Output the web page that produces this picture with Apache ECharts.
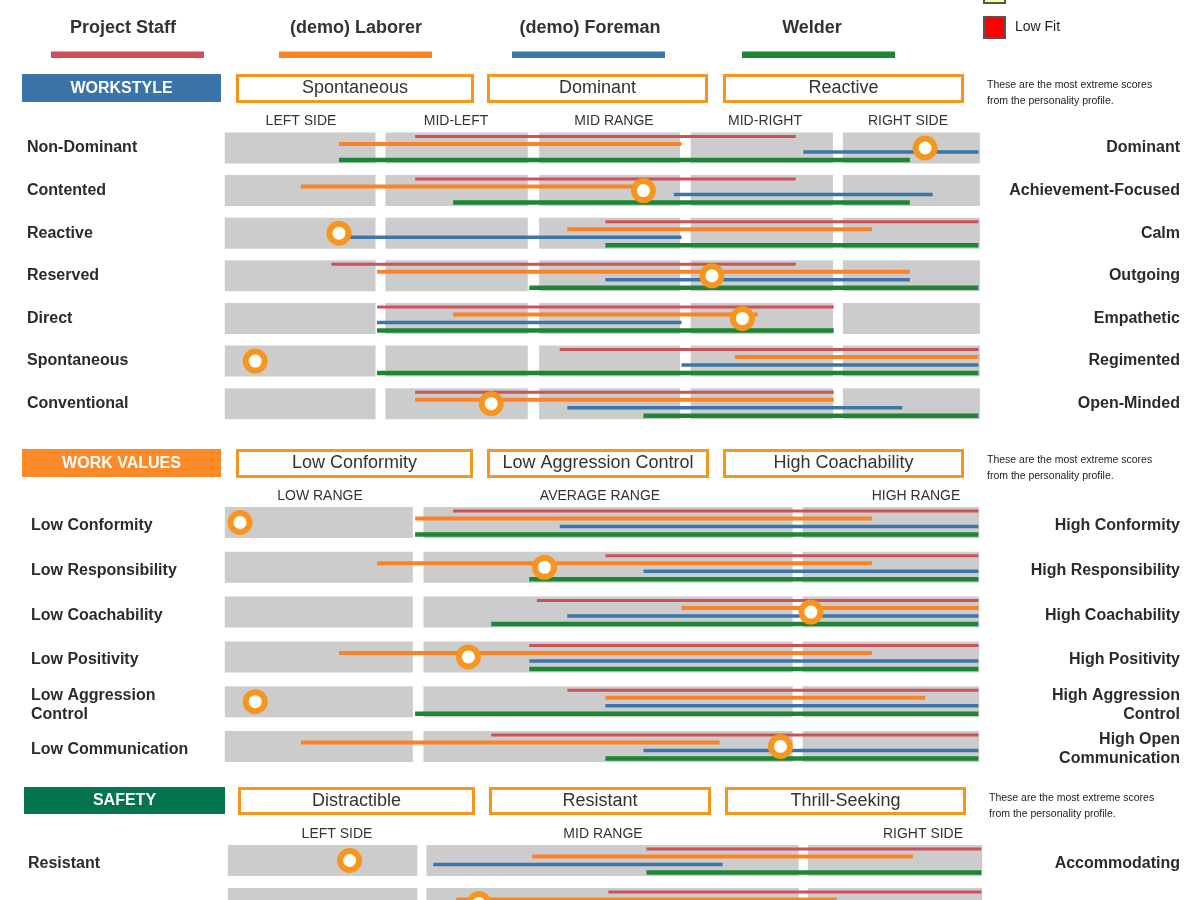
<!DOCTYPE html>
<html>
<head>
<meta charset="utf-8">
<script src="https://cdn.jsdelivr.net/npm/echarts@6/dist/echarts.min.js"></script>
<style>
html,body{margin:0;padding:0;background:#fff;}
#chart{width:1200px;height:900px;}
</style>
</head>
<body>
<div id="chart"></div>
<script>
// ---------------- DATA ----------------
const seriesNames = ['Project Staff', '(demo) Laborer', '(demo) Foreman', 'Welder'];
const fitLegend = ['Low Fit'];
const noteLines = ['These are the most extreme scores', 'from the personality profile.'];

// WORKSTYLE
const wsTitle = 'WORKSTYLE';
const wsExtremes = ['Spontaneous', 'Dominant', 'Reactive'];
const wsZones = ['LEFT SIDE', 'MID-LEFT', 'MID RANGE', 'MID-RIGHT', 'RIGHT SIDE'];
const wsLeft = ['Non-Dominant', 'Contented', 'Reactive', 'Reserved', 'Direct', 'Spontaneous', 'Conventional'];
const wsRight = ['Dominant', 'Achievement-Focused', 'Calm', 'Outgoing', 'Empathetic', 'Regimented', 'Open-Minded'];
const wsBands = [[0, 19.8], [21.1, 39.8], [41.3, 59.8], [61.2, 79.9], [81.2, 99.2]];
const wsStaff   = [[25, 75], [25, 75], [50, 99], [14, 75], [20, 80], [44, 99], [25, 80]];
const wsLaborer = [[15, 60], [10, 55], [45, 85], [20, 90], [30, 70], [67, 99], [25, 80]];
const wsForeman = [[76, 99], [59, 93], [15, 60], [50, 90], [20, 60], [60, 99], [45, 89]];
const wsWelder  = [[15, 90], [30, 90], [50, 99], [40, 99], [20, 80], [20, 99], [55, 99]];
const wsScore   = [92, 55, 15, 64, 68, 4, 35];

// WORK VALUES
const wvTitle = 'WORK VALUES';
const wvExtremes = ['Low Conformity', 'Low Aggression Control', 'High Coachability'];
const wvZones = ['LOW RANGE', 'AVERAGE RANGE', 'HIGH RANGE'];
const wvLeft = ['Low Conformity', 'Low Responsibility', 'Low Coachability', 'Low Positivity', 'Low Aggression\nControl', 'Low Communication'];
const wvRight = ['High Conformity', 'High Responsibility', 'High Coachability', 'High Positivity', 'High Aggression\nControl', 'High Open\nCommunication'];
const wvBands = [[0, 24.7], [26.1, 74.6], [75.9, 99.1]];
const wvStaff   = [[30, 99], [50, 99], [41, 99], [40, 99], [45, 99], [35, 99]];
const wvLaborer = [[25, 85], [20, 85], [60, 99], [15, 85], [50, 92], [10, 65]];
const wvForeman = [[44, 99], [55, 99], [45, 99], [40, 99], [50, 99], [55, 99]];
const wvWelder  = [[25, 99], [40, 99], [35, 99], [40, 99], [25, 99], [50, 99]];
const wvScore   = [2, 42, 77, 32, 4, 73];

// SAFETY
const sfTitle = 'SAFETY';
const sfExtremes = ['Distractible', 'Resistant', 'Thrill-Seeking'];
const sfZones = ['LEFT SIDE', 'MID RANGE', 'RIGHT SIDE'];
const sfLeft = ['Resistant', ''];
const sfRight = ['Accommodating', ''];
const sfBands = [[0, 24.9], [26.1, 75], [76.2, 99.1]];
const sfStaff   = [[55, 99], [50, 99]];
const sfLaborer = [[40, 90], [30, 80]];
const sfForeman = [[27, 65], null];
const sfWelder  = [[55, 99], null];
const sfScore   = [16, 33];

// ---------------- STYLE / LAYOUT ----------------
const FONT = "'Liberation Sans', Arial, Helvetica, sans-serif";
const COLORS = ['#cd5158', '#fd8224', '#3b76aa', '#1b8634'];
const WIDTHS = [3, 4, 3.5, 4.5];
const OFFSETS = [-11.5, -4, 4, 12];
const BOX_H = 31;
const SCORE_COLOR = '#f7961f';

const layout = [
  { grid: { left: 224.8, width: 761.2, top: 126.7, height: 298.3 }, leftMargin: 197.8, rightMargin: 194, labelShift: 0,
    head: { y: 74, h: 28, titleX: 22, titleW: 199, color: '#3a74a8', boxes: [[236, 238], [487, 221], [723, 241]], noteX: 987 },
    zoneY: 121, zoneX: [301, 456, 614, 765, 908] },
  { grid: { left: 224.8, width: 761.2, top: 500.1, height: 268.8 }, leftMargin: 193.8, rightMargin: 194, labelShift: 3,
    head: { y: 449, h: 28, titleX: 22, titleW: 199, color: '#fd8a28', boxes: [[236, 237], [487, 222], [723, 241]], noteX: 987 },
    zoneY: 496, zoneX: [320, 600, 916] },
  { grid: { left: 227.8, width: 761.2, top: 839, height: 86 }, leftMargin: 199.8, rightMargin: 191, labelShift: 3.5,
    head: { y: 787, h: 27, titleX: 24, titleW: 201, color: '#03744b', boxes: [[238, 237], [489, 222], [725, 241]], noteX: 989 },
    zoneY: 834, zoneX: [337, 603, 923] }
];

const sections = [
  { title: wsTitle, extremes: wsExtremes, zones: wsZones, left: wsLeft, right: wsRight, bands: wsBands,
    lines: [wsStaff, wsLaborer, wsForeman, wsWelder], score: wsScore },
  { title: wvTitle, extremes: wvExtremes, zones: wvZones, left: wvLeft, right: wvRight, bands: wvBands,
    lines: [wvStaff, wvLaborer, wvForeman, wvWelder], score: wvScore },
  { title: sfTitle, extremes: sfExtremes, zones: sfZones, left: sfLeft, right: sfRight, bands: sfBands,
    lines: [sfStaff, sfLaborer, sfForeman, sfWelder], score: sfScore }
];

// ---------------- BUILD ----------------
function txt(x, y, text, o) {
  o = o || {};
  const align = o.align || 'center';
  const va = o.va || 'middle';
  return {
    type: 'text', x: x, y: y, silent: true, z: 10,
    style: {
      text: text, fill: o.fill || '#333', fontSize: o.size || 14, fontWeight: o.weight || 'normal',
      fontFamily: FONT, align: align, verticalAlign: va, textAlign: align, textVerticalAlign: va
    }
  };
}

const grids = [], xAxes = [], yAxes = [], series = [], graphic = [];
const hiddenAxis = { axisLine: { show: false }, axisTick: { show: false }, splitLine: { show: false } };

sections.forEach(function (sec, g) {
  const L = layout[g];
  const dataGrid = 2 * g, labelGrid = 2 * g + 1;
  const yData = 3 * g;
  grids.push(Object.assign({ outerBoundsMode: 'none', containLabel: false }, L.grid));
  grids.push(Object.assign({ outerBoundsMode: 'none', containLabel: false }, L.grid, { top: L.grid.top + L.labelShift }));
  xAxes.push({ type: 'value', gridIndex: dataGrid, min: 0, max: 100, show: false });
  xAxes.push({ type: 'value', gridIndex: labelGrid, min: 0, max: 100, show: false });

  const labelBase = { interval: 0, fontSize: 16, fontWeight: 'bold', color: '#2b2b2b', fontFamily: FONT, lineHeight: 19 };
  yAxes.push(Object.assign({ type: 'category', gridIndex: dataGrid, data: sec.left, inverse: true, axisLabel: { show: false } }, hiddenAxis));
  yAxes.push(Object.assign({ type: 'category', gridIndex: labelGrid, data: sec.left, inverse: true, position: 'left',
    axisLabel: Object.assign({}, labelBase, { align: 'left', margin: L.leftMargin }) }, hiddenAxis));
  yAxes.push(Object.assign({ type: 'category', gridIndex: labelGrid, data: sec.right, inverse: true, position: 'right',
    axisLabel: Object.assign({}, labelBase, { align: 'right', margin: L.rightMargin }) }, hiddenAxis));

  // grey range boxes
  const boxData = [];
  sec.left.forEach(function (_, i) {
    sec.bands.forEach(function (b) { boxData.push([b[0], b[1], i]); });
  });
  series.push({
    type: 'custom', xAxisIndex: dataGrid, yAxisIndex: yData, silent: true, z: 1,
    data: boxData, encode: { x: [0, 1], y: 2 },
    renderItem: function (params, api) {
      const p1 = api.coord([api.value(0), api.value(2)]);
      const p2 = api.coord([api.value(1), api.value(2)]);
      return { type: 'rect', shape: { x: p1[0], y: p1[1] - BOX_H / 2, width: p2[0] - p1[0], height: BOX_H },
        style: { fill: '#cccccc' } };
    }
  });

  // group lines
  sec.lines.forEach(function (arr, s) {
    const data = [];
    arr.forEach(function (d, i) { if (d) data.push([d[0], d[1], i]); });
    series.push({
      type: 'custom', name: seriesNames[s], xAxisIndex: dataGrid, yAxisIndex: yData, z: 3,
      data: data, encode: { x: [0, 1], y: 2 },
      renderItem: function (params, api) {
        const p1 = api.coord([api.value(0), api.value(2)]);
        const p2 = api.coord([api.value(1), api.value(2)]);
        return { type: 'line',
          shape: { x1: p1[0], y1: p1[1] + OFFSETS[s], x2: p2[0], y2: p2[1] + OFFSETS[s] },
          style: { stroke: COLORS[s], lineWidth: WIDTHS[s], lineCap: 'butt' } };
      }
    });
  });

  // candidate score
  series.push({
    type: 'scatter', xAxisIndex: dataGrid, yAxisIndex: yData, z: 5, symbol: 'circle', symbolSize: 19,
    data: sec.score.map(function (v, i) { return [v, i]; }),
    itemStyle: { color: '#ffffff', borderColor: SCORE_COLOR, borderWidth: 6, opacity: 1 }
  });

  // section header
  const H = L.head;
  graphic.push({ type: 'rect', silent: true, shape: { x: H.titleX, y: H.y, width: H.titleW, height: H.h }, style: { fill: H.color } });
  graphic.push(txt(H.titleX + H.titleW / 2, H.y + H.h / 2 + 0.5, sec.title, { fill: '#ffffff', size: 16, weight: 'bold' }));
  H.boxes.forEach(function (b, k) {
    graphic.push({ type: 'rect', silent: true, shape: { x: b[0] + 1.5, y: H.y + 1.5, width: b[1] - 3, height: H.h - 2 },
      style: { fill: '#ffffff', stroke: '#f7961f', lineWidth: 3 } });
    graphic.push(txt(b[0] + b[1] / 2, H.y + H.h / 2 + 0.5, sec.extremes[k], { size: 18, fill: '#333' }));
  });
  graphic.push(txt(H.noteX, H.y + 11, noteLines[0], { align: 'left', size: 10.5, fill: '#222' }));
  graphic.push(txt(H.noteX, H.y + 27, noteLines[1], { align: 'left', size: 10.5, fill: '#222' }));

  // zone headings
  sec.zones.forEach(function (z, k) {
    graphic.push(txt(L.zoneX[k], L.zoneY, z, { size: 14, fill: '#333' }));
  });
});

// top legend (group names with colour bars)
const legendTextX = [123, 356, 590, 812];
const legendBarX = [51, 279, 512, 742];
seriesNames.forEach(function (n, i) {
  graphic.push(txt(legendTextX[i], 28, n, { size: 18, weight: 'bold', fill: '#333' }));
  graphic.push({ type: 'rect', silent: true, shape: { x: legendBarX[i], y: 51.5, width: 153, height: 6.5 }, style: { fill: COLORS[i] } });
});

// fit legend (top right)
graphic.push({ type: 'rect', silent: true, shape: { x: 984, y: -18, width: 21, height: 21 }, style: { fill: '#ffff99', stroke: '#555', lineWidth: 2 } });
graphic.push({ type: 'rect', silent: true, shape: { x: 984, y: 17, width: 21, height: 21 }, style: { fill: '#ff0000', stroke: '#555', lineWidth: 2 } });
graphic.push(txt(1015, 27, fitLegend[0], { align: 'left', size: 14, fill: '#222' }));

const chart = echarts.init(document.getElementById('chart'), null, { renderer: 'canvas' });
chart.setOption({
  animation: false,
  backgroundColor: '#ffffff',
  grid: grids,
  xAxis: xAxes,
  yAxis: yAxes,
  series: series,
  graphic: { elements: graphic }
});
</script>
</body>
</html>
